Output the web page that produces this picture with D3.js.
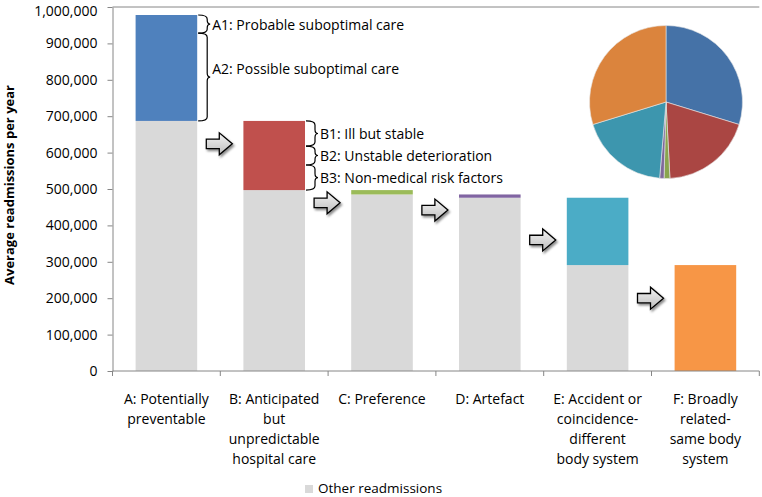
<!DOCTYPE html>
<html><head><meta charset="utf-8">
<script src="https://cdn.jsdelivr.net/npm/d3@7"></script>
<style>
html,body{margin:0;padding:0;background:#fff;}
text{font-family:"Open Sans",sans-serif;fill:#000;}
</style></head>
<body>
<svg id="chart" width="762" height="497"></svg>
<script>
// ---- data ----
const categories = ["A","B","C","D","E","F"];
const categoryLabels = [
  ["A: Potentially","preventable"],
  ["B: Anticipated","but","unpredictable","hospital care"],
  ["C: Preference"],
  ["D: Artefact"],
  ["E: Accident or","coincidence-","different","body system"],
  ["F: Broadly","related-","same body","system"]
];
const otherValues = [687000, 497000, 485000, 476000, 291000, 0];
const categoryValues = [291000, 190000, 12000, 9000, 185000, 291000];
const barColors = ["#4f81bd","#c0504d","#9bbb59","#8064a2","#4bacc6","#f79646"];
const pieColors = ["#4572a7","#aa4643","#89a54e","#80699b","#3d96ae","#db843d"];
const yTicks = [0,100000,200000,300000,400000,500000,600000,700000,800000,900000,1000000];
const subA = [50000, 241000];
const subALabels = ["A1: Probable suboptimal care","A2: Possible suboptimal care"];
const subB = [69000, 52000, 69000];
const subBLabels = ["B1: Ill but stable","B2: Unstable deterioration","B3: Non-medical risk factors"];
const arrowValues = [624000, 462000, 442000, 360000, 200000];
const legendLabel = "Other readmissions";
const yTitle = "Average readmissions per year";

// ---- layout ----
const svg = d3.select("#chart");
const x = d3.scaleBand().domain(categories).range([112.5, 759.3]).paddingInner(0.4286).paddingOuter(0.2143);
const y = d3.scaleLinear().domain([0, 1000000]).range([371, 7]);
const axisColor = "#868686";

const defs = svg.append("defs");
const grad = defs.append("linearGradient").attr("id","arrowGrad").attr("x1",0).attr("y1",0).attr("x2",0).attr("y2",1);
grad.append("stop").attr("offset","0%").attr("stop-color","#f4f4f4");
grad.append("stop").attr("offset","100%").attr("stop-color","#bdbdbd");
const filt = defs.append("filter").attr("id","shadow").attr("x","-30%").attr("y","-30%").attr("width","170%").attr("height","170%");
filt.append("feDropShadow").attr("dx",1.5).attr("dy",2).attr("stdDeviation",1.2).attr("flood-color","#000").attr("flood-opacity",0.45);

// top border line
svg.append("line").attr("x1",x.range()[0]).attr("x2",x.range()[1]).attr("y1",y(1000000)).attr("y2",y(1000000))
  .attr("stroke",axisColor).attr("stroke-width",1);

// bars
const g = svg.append("g");
categories.forEach((c,i)=>{
  if (otherValues[i] > 0) {
    g.append("rect").attr("x",x(c)).attr("width",x.bandwidth())
      .attr("y",y(otherValues[i])).attr("height",y(0)-y(otherValues[i])).attr("fill","#d9d9d9");
  }
  const top = otherValues[i] + categoryValues[i];
  g.append("rect").attr("x",x(c)).attr("width",x.bandwidth())
    .attr("y",y(top)).attr("height",y(otherValues[i])-y(top)).attr("fill",barColors[i]);
});

// y axis
const yAxis = svg.append("g").attr("transform",`translate(${x.range()[0]},0)`)
  .call(d3.axisLeft(y).tickValues(yTicks).tickFormat(d3.format(",")).tickSize(5).tickSizeOuter(0).tickPadding(10));
yAxis.select(".domain").attr("stroke",axisColor);
yAxis.selectAll(".tick line").attr("stroke",axisColor);
yAxis.selectAll(".tick text").style("font-family","'Open Sans',sans-serif").style("font-size","14px").attr("fill","#000")
  .attr("dy", d => d === 1000000 ? "0.62em" : "0.32em");

// x axis
svg.append("line").attr("x1",x.range()[0]).attr("x2",x.range()[1]).attr("y1",y(0)).attr("y2",y(0)).attr("stroke",axisColor);
d3.range(categories.length+1).forEach(i=>{
  const bx = x.range()[0] + i*x.step();
  svg.append("line").attr("x1",bx).attr("x2",bx).attr("y1",y(0)).attr("y2",y(0)+5).attr("stroke",axisColor);
});
categories.forEach((c,i)=>{
  const cx = x(c) + x.bandwidth()/2;
  categoryLabels[i].forEach((line,j)=>{
    svg.append("text").attr("x",cx).attr("y",398 + j*20.2).attr("text-anchor","middle")
      .attr("dominant-baseline","central").style("font-size","14px").text(line);
  });
});

// y title
svg.append("text").attr("transform","translate(9,185) rotate(-90)").attr("text-anchor","middle")
  .attr("dominant-baseline","central").style("font-size","13px").style("font-weight","bold").text(yTitle);

// braces
function brace(xl, y0, y1, w) {
  const xm = xl + w, ym = (y0+y1)/2, r = Math.min(4, (y1-y0)/4);
  return `M${xl},${y0} Q${xm},${y0} ${xm},${y0+r} L${xm},${ym-r} Q${xm},${ym} ${xm+3},${ym} Q${xm},${ym} ${xm},${ym+r} L${xm},${y1-r} Q${xm},${y1} ${xl},${y1}`;
}
function drawBraces(catIdx, subs, labels, textDy) {
  const c = categories[catIdx];
  const xr = x(c) + x.bandwidth();
  let top = otherValues[catIdx] + categoryValues[catIdx];
  subs.forEach((v,k)=>{
    const y0 = y(top), y1 = y(top - v);
    svg.append("path").attr("d",brace(xr+1, y0, y1, 9)).attr("fill","none").attr("stroke","#000").attr("stroke-width",1.2);
    svg.append("text").attr("x",xr+15).attr("y",(y0+y1)/2 + (textDy[k]||0)).attr("dominant-baseline","central")
      .style("font-size","14px").text(labels[k]);
    top -= v;
  });
}
drawBraces(0, subA, subALabels, [0,-9]);
drawBraces(1, subB, subBLabels, [0,0,0]);

// arrows
const arrowPath = "M-13,-4.7 L0,-4.7 L0,-11 L13,0 L0,11 L0,4.7 L-13,4.7 Z";
arrowValues.forEach((v,i)=>{
  const bx = x.range()[0] + (i+1)*x.step() - 1;
  svg.append("path").attr("d",arrowPath).attr("transform",`translate(${bx},${y(v)})`)
    .attr("fill","url(#arrowGrad)").attr("stroke","#000").attr("stroke-width",1.3).attr("filter","url(#shadow)");
});

// pie
const pie = d3.pie().sort(null).value(d=>d)(categoryValues);
const arc = d3.arc().innerRadius(0).outerRadius(76.5);
svg.append("g").attr("transform","translate(666,102)").selectAll("path").data(pie).join("path")
  .attr("d",arc).attr("fill",(d,i)=>pieColors[i]).attr("stroke","#e8e8e8").attr("stroke-width",0.6);

// legend
svg.append("rect").attr("x",305).attr("y",485).attr("width",8).attr("height",8).attr("fill","#d9d9d9");
svg.append("text").attr("x",318).attr("y",488).attr("dominant-baseline","central").style("font-size","13.5px").text(legendLabel);
</script>
</body></html>
